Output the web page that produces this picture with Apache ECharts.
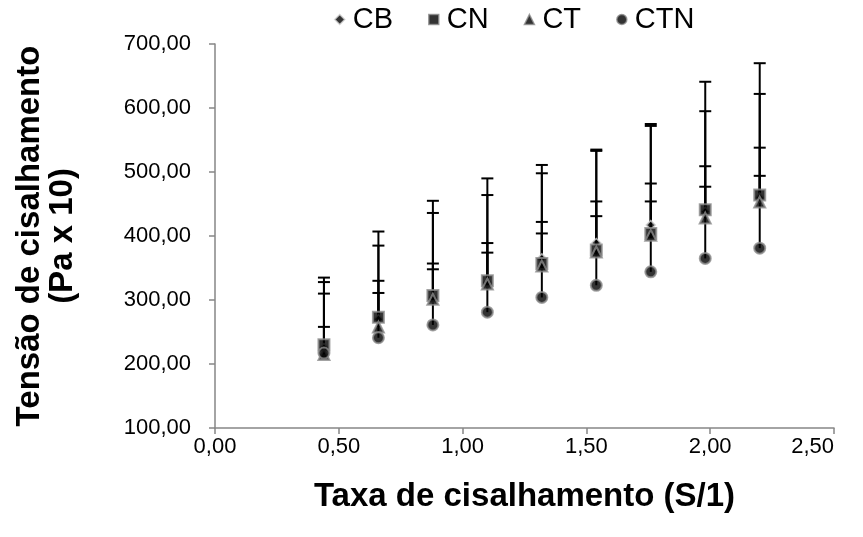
<!DOCTYPE html>
<html>
<head>
<meta charset="utf-8">
<script src="https://cdn.jsdelivr.net/npm/echarts@6/dist/echarts.min.js"></script>
<style>
  html, body { margin: 0; padding: 0; background: #fff; }
  #chart { width: 863px; height: 537px; }
</style>
</head>
<body>
<div id="chart"></div>
<script>
// Shear rate (S/1)
const shearRate = [0.44, 0.66, 0.88, 1.10, 1.32, 1.54, 1.76, 1.98, 2.20];

// Mean shear stress (Pa x 10) per sample
const cbValues  = [225, 270, 303, 327, 365, 389, 417, 438, 460];
const cnValues  = [230, 273, 307, 330, 357, 378, 404, 441, 464];
const ctValues  = [215, 258, 301, 325, 353, 375, 401, 428, 453];
const ctnValues = [217, 241, 261, 281, 304, 323, 344, 365, 381];

// Positive error (standard deviation) per sample
const cbErr  = [103, 115, 133, 137, 133, 144, 155, 157, 162];
const cnErr  = [105, 134, 148, 160, 154, 157, 171, 200, 206];
const ctErr  = [95, 72, 56, 64, 69, 79, 81, 81, 85];
const ctnErr = [41, 70, 87, 93, 100, 108, 110, 112, 113];

const seriesNames = ['CB', 'CN', 'CT', 'CTN'];
const yTicks = { min: 100, max: 700, step: 100 };
const xTicks = { min: 0, max: 2.5, step: 0.5 };

const FONT = '"Liberation Sans", Arial, sans-serif';
const fmt = v => v.toFixed(2).replace('.', ',');

const pts = vals => shearRate.map((x, i) => [x, vals[i]]);
const bars = (vals, err) => shearRate.map((x, i) => [x, vals[i], vals[i] + err[i]]);

function errorBar(params, api) {
  const x = api.value(0);
  const p0 = api.coord([x, api.value(1)]);
  const p1 = api.coord([x, api.value(2)]);
  const half = 6;
  const style = { stroke: '#000', lineWidth: 2 };
  return {
    type: 'group',
    children: [
      { type: 'line', shape: { x1: p0[0], y1: p0[1], x2: p1[0], y2: p1[1] }, style },
      { type: 'line', shape: { x1: p1[0] - half, y1: p1[1], x2: p1[0] + half, y2: p1[1] }, style }
    ]
  };
}

const markerStyle = { color: '#000', borderColor: '#8c8c8c', borderWidth: 2 };
const diamondStyle = { color: '#000', borderColor: '#d0d0d0', borderWidth: 1.5 };

const markers = [
  { name: 'CB', symbol: 'diamond', size: 9, data: pts(cbValues), style: diamondStyle },
  { name: 'CN', symbol: 'rect', size: 11, data: pts(cnValues), style: markerStyle },
  { name: 'CT', symbol: 'triangle', size: 11, data: pts(ctValues), style: markerStyle },
  { name: 'CTN', symbol: 'circle', size: 11, data: pts(ctnValues), style: markerStyle }
];

const errorSets = [bars(cbValues, cbErr), bars(cnValues, cnErr), bars(ctValues, ctErr), bars(ctnValues, ctnErr)];

const series = [];
markers.forEach(m => {
  series.push({
    type: 'scatter', name: m.name, symbol: m.symbol, symbolSize: m.size,
    data: m.data, itemStyle: m.style, z: 3
  });
});
errorSets.forEach((d, i) => {
  series.push({
    type: 'custom', name: seriesNames[i], renderItem: errorBar, data: d, z: 1,
    itemStyle: { color: '#000' },
    encode: { x: 0, y: [1, 2] }, silent: true
  });
});

const axisLineStyle = { color: '#868686', width: 1.5 };

const chart = echarts.init(document.getElementById('chart'), null, { renderer: 'canvas' });
chart.setOption({
  animation: false,
  backgroundColor: '#fff',
  color: ['#000'],
  textStyle: { fontFamily: FONT },
  legend: {
    data: markers.map(m => ({
      name: m.name, icon: m.symbol,
      itemStyle: Object.assign({}, m.style, { borderWidth: 1.5 })
    })),
    top: 5, left: 334, padding: 0,
    itemWidth: 10, itemHeight: 10, itemGap: 35,
    textStyle: { fontSize: 29, color: '#000', fontFamily: FONT, padding: [0, 0, 0, 3] }
  },
  grid: { left: 215, right: 29, top: 44, bottom: 109, containLabel: false },
  xAxis: {
    type: 'value', min: xTicks.min, max: xTicks.max, interval: xTicks.step,
    name: 'Taxa de cisalhamento (S/1)', nameLocation: 'middle', nameGap: 52,
    nameTextStyle: { fontSize: 33, fontWeight: 'bold', color: '#000', fontFamily: FONT },
    axisLine: { lineStyle: axisLineStyle },
    axisTick: { show: true, length: 6, lineStyle: axisLineStyle },
    axisLabel: { formatter: fmt, fontSize: 22, color: '#000', margin: 8, fontFamily: FONT, alignMaxLabel: 'right' },
    splitLine: { show: false }
  },
  yAxis: {
    type: 'value', min: yTicks.min, max: yTicks.max, interval: yTicks.step,
    name: 'Tensão de cisalhamento\n(Pa x 10)', nameLocation: 'middle', nameGap: 136,
    nameTextStyle: { fontSize: 33, fontWeight: 'bold', color: '#000', fontFamily: FONT, lineHeight: 33 },
    axisLine: { show: true, lineStyle: axisLineStyle },
    axisTick: { show: true, length: 6, lineStyle: axisLineStyle },
    axisLabel: { formatter: fmt, fontSize: 22, color: '#000', margin: 24, fontFamily: FONT },
    splitLine: { show: false }
  },
  series: series
});
</script>
</body>
</html>
